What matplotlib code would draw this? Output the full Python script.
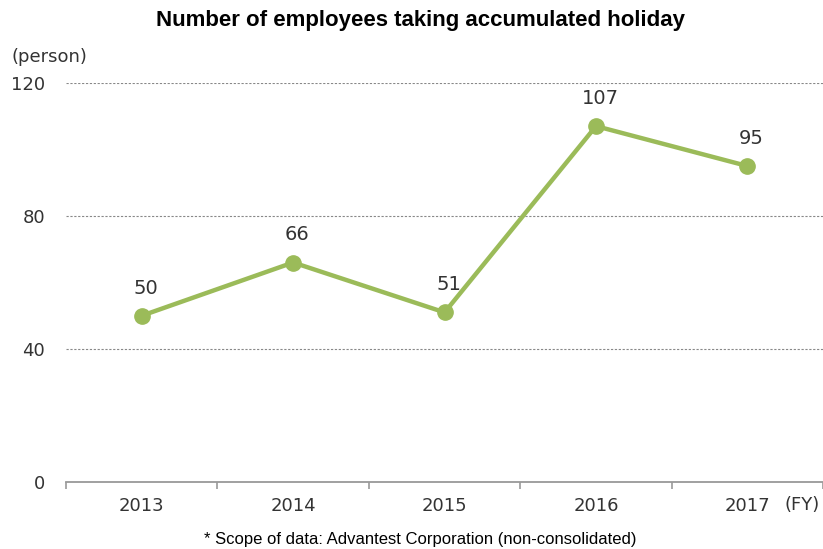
import matplotlib
matplotlib.use("Agg")
import matplotlib.pyplot as plt

years = ["2013", "2014", "2015", "2016", "2017"]
employees = [50, 66, 51, 107, 95]
yticks = [0, 40, 80, 120]

line_color = "#9BBB59"
text_color = "#333333"

fig = plt.figure(figsize=(8.23, 5.49), dpi=100)
ax = fig.add_axes([0.0802, 0.122, 0.92, 0.727])

x = list(range(len(years)))
ax.plot(x, employees, color=line_color, lw=3.2, marker="o", ms=11, zorder=3)
for xi, v in zip(x, employees):
    ax.annotate(str(v), (xi, v), xytext=(3, 13), textcoords="offset points",
                ha="center", va="bottom", fontsize=14, color=text_color,
                family="DejaVu Sans")

ax.set_xlim(-0.5, 4.48)
ax.set_ylim(0, 120)

for y in yticks[1:]:
    ax.axhline(y, color="#888888", lw=0.8, ls=(0, (2, 1.5)), zorder=1)

for s in ["top", "right", "left"]:
    ax.spines[s].set_visible(False)
ax.spines["bottom"].set_color("#999999")
ax.spines["bottom"].set_linewidth(1.3)

# category boundaries carry the tick marks, labels sit between them
ax.set_xticks([i + 0.5 for i in range(-1, len(years))], minor=False)
ax.set_xticklabels([])
ax.tick_params(axis="x", which="major", direction="out", length=5,
               color="#999999", width=1.2)
ax.set_xticks(x, minor=True)
ax.set_xticklabels(years, minor=True)
ax.tick_params(axis="x", which="minor", length=0, pad=11,
               labelsize=13, labelcolor=text_color)

ax.set_yticks(yticks)
ax.set_yticklabels([str(v) for v in yticks])
ax.tick_params(axis="y", length=0, labelsize=13, labelcolor=text_color, pad=15)

fig.text(0.014, 0.896, "(person)", fontsize=13, color=text_color, ha="left", va="center")
fig.text(0.953, 0.080, "(FY)", fontsize=13, color=text_color, ha="left", va="center")

fig.text(0.511, 0.963, "Number of employees taking accumulated holiday",
         fontsize=16, fontweight="bold", ha="center", va="center",
         family="Liberation Sans")
fig.text(0.511, 0.017, "* Scope of data: Advantest Corporation (non-consolidated)",
         fontsize=12, ha="center", va="center", family="Liberation Sans")

fig.savefig("out.png", dpi=100)
